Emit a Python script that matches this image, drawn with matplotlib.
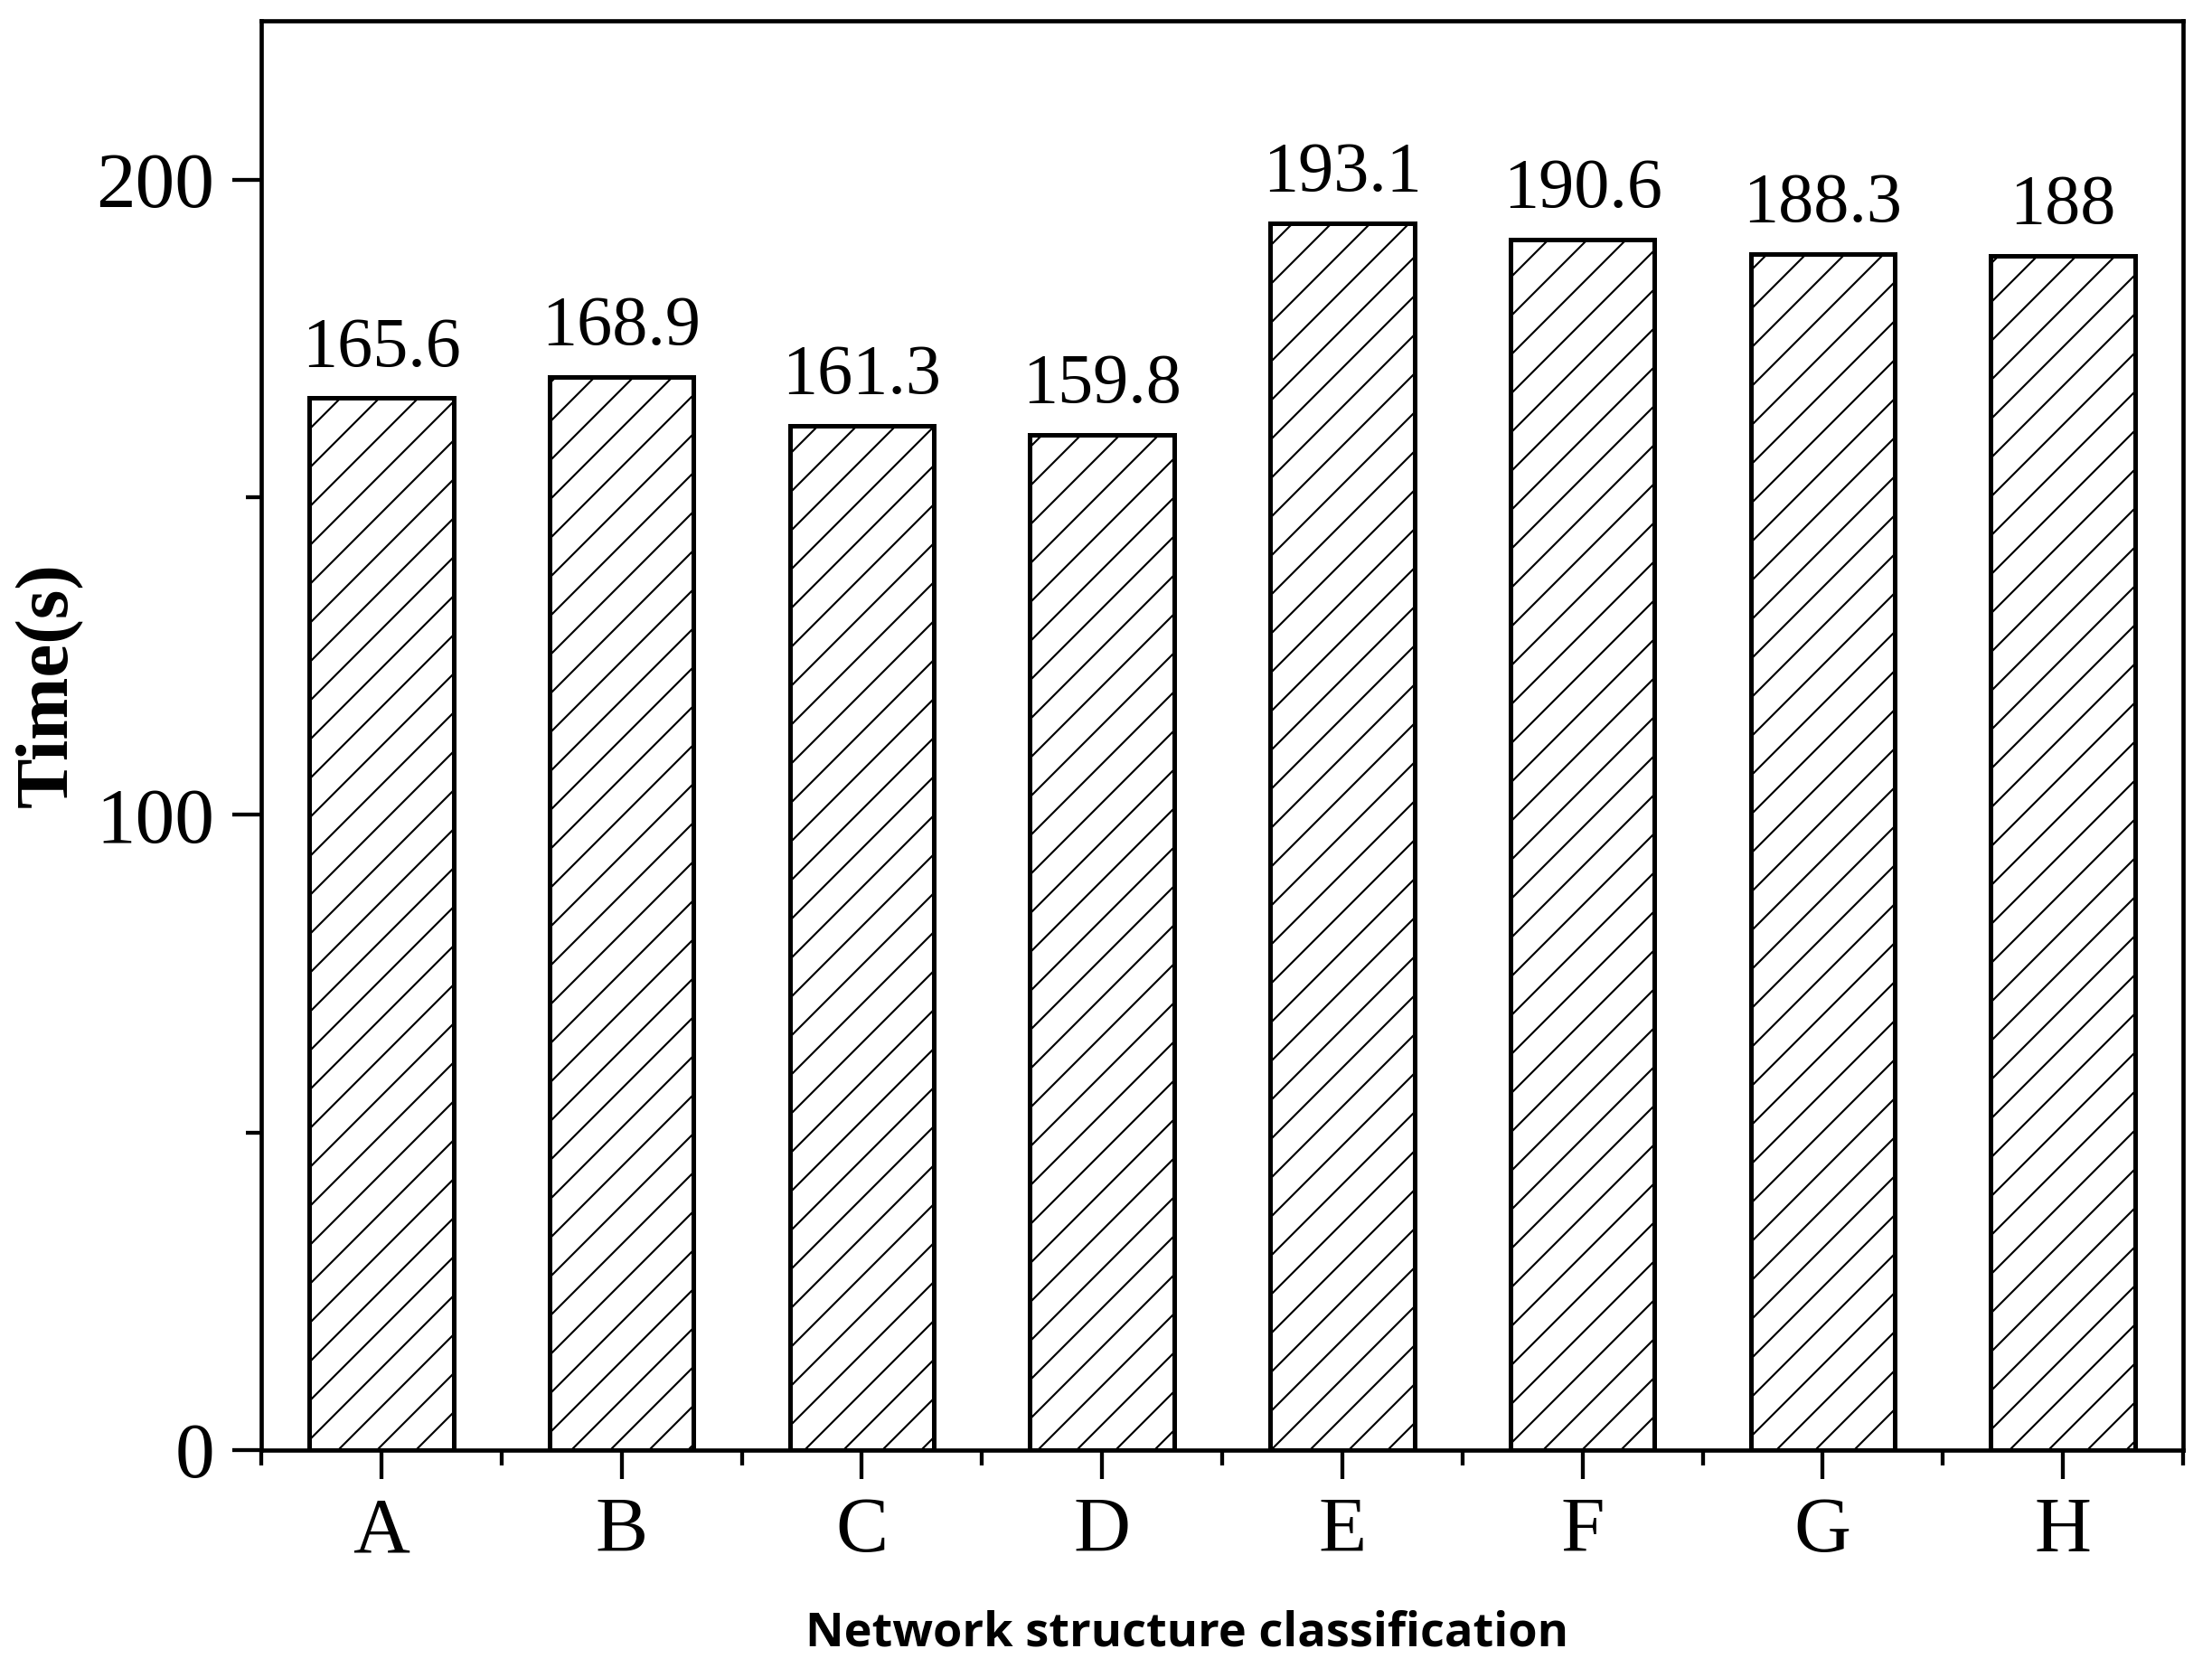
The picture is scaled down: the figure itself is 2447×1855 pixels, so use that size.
import matplotlib
matplotlib.use("Agg")
import matplotlib.pyplot as plt
import matplotlib.ticker as mticker
import numpy as np

DPI = 258
categories = ["A", "B", "C", "D", "E", "F", "G", "H"]
times = [165.6, 168.9, 161.3, 159.8, 193.1, 190.6, 188.3, 188.0]
y_major = [0, 100, 200]
y_minor = [50, 150]

SERIF = "Liberation Serif"
plt.rcParams["hatch.linewidth"] = 0.6
plt.rcParams["font.family"] = SERIF

fig = plt.figure(figsize=(2447 / DPI, 1855 / DPI), dpi=DPI)
ax = fig.add_axes([289 / 2447, 1 - 1604 / 1855, (2415 - 289) / 2447, (1604 - 23) / 1855])

x = np.arange(len(categories))
bars = ax.bar(x, times, width=0.6, color="white", edgecolor="black",
              linewidth=1.4, hatch="//")

for xi, v in zip(x, times):
    ax.annotate(f"{v:g}", (xi, v), xytext=(0, 10), textcoords="offset points",
                ha="center", va="baseline", fontsize=21.8, family=SERIF)

ax.set_xlim(-0.5, 7.5)
ax.set_ylim(0, 225)
ax.set_xticks(x)
ax.set_xticklabels(categories)
ax.xaxis.set_minor_locator(mticker.FixedLocator(np.arange(-0.5, 8.0, 1.0)))
ax.set_yticks(y_major)
ax.yaxis.set_minor_locator(mticker.FixedLocator(y_minor))

ax.tick_params(which="major", direction="out", length=8.9, width=1.2,
               labelsize=24.3, pad=5.5)
ax.tick_params(which="minor", direction="out", length=4.7, width=1.2)
for s in ax.spines.values():
    s.set_linewidth(1.3)

fig.text(55 / 2447, 1 - 758 / 1855, "Time(s)", rotation=90, ha="center", va="center",
         fontsize=23.2, fontweight="bold", family=SERIF)
fig.text(1313 / 2447, 1 - 1807 / 1855, "Network structure classification",
         ha="center", va="center", fontsize=14.6, fontweight="bold", family="Open Sans")

fig.savefig("out.png", dpi=DPI)
